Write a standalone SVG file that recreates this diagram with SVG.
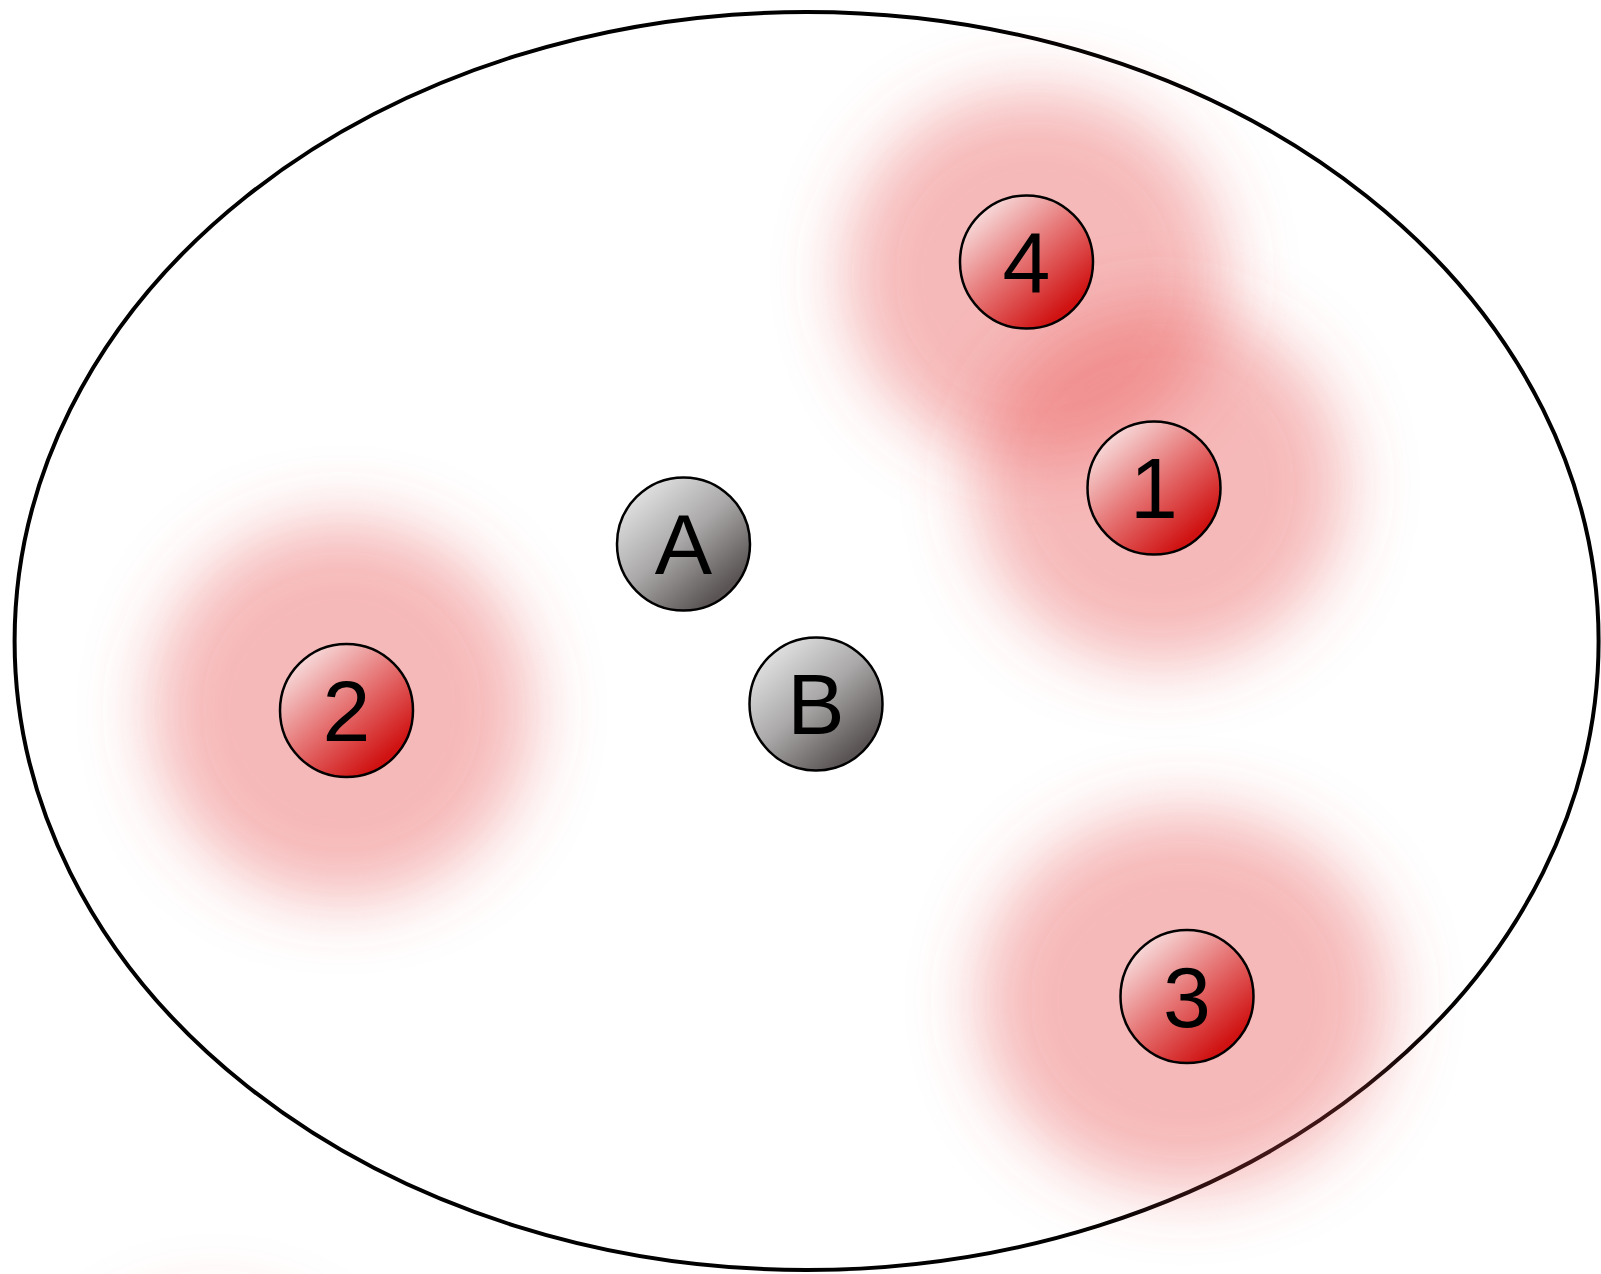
<svg xmlns="http://www.w3.org/2000/svg" width="1601" height="1274" viewBox="0 0 1601 1274">
<defs>
<style>
.node circle{stroke:#000;stroke-width:2.5}
.red{fill:url(#gRed)}
.gray{fill:url(#gGray)}
.lbl{font-family:"Liberation Sans",Arial,sans-serif;font-size:86px;fill:#000;text-anchor:middle;dominant-baseline:central}
.glow{fill:#e85050;fill-opacity:0.4;filter:url(#blur)}
</style>
<linearGradient id="gRed" x1="0.15" y1="0.1" x2="0.8" y2="0.85">
<stop offset="0" stop-color="#f8dede"/>
<stop offset="0.5" stop-color="#e67474"/>
<stop offset="1" stop-color="#d01212"/>
</linearGradient>
<linearGradient id="gGray" x1="0.15" y1="0.1" x2="0.8" y2="0.85">
<stop offset="0" stop-color="#e2e2e2"/>
<stop offset="0.5" stop-color="#aaa8a8"/>
<stop offset="1" stop-color="#5a5454"/>
</linearGradient>
<filter id="blur" x="-50%" y="-50%" width="200%" height="200%">
<feGaussianBlur stdDeviation="34"/>
</filter>
</defs>
<rect width="1601" height="1274" fill="#fff"/>
<ellipse cx="806.6" cy="641" rx="792" ry="629" fill="none" stroke="#000" stroke-width="4"/>
<g id="glows">
<ellipse class="glow" cx="1035" cy="275" rx="190" ry="185"/>
<ellipse class="glow" cx="1160" cy="485" rx="185" ry="180"/>
<ellipse class="glow" cx="342" cy="710" rx="190" ry="190"/>
<ellipse class="glow" cx="1185" cy="1000" rx="205" ry="190"/>
<ellipse class="glow" cx="215" cy="1480" rx="180" ry="180" style="fill-opacity:0.15"/>
</g>
<g id="connectors"></g>
<g id="node-4" class="node"><circle class="red" cx="1026.5" cy="262" r="66.5"/><text class="lbl" x="1026.5" y="262">4</text></g>
<g id="node-1" class="node"><circle class="red" cx="1154" cy="488" r="66.5"/><text class="lbl" x="1154" y="488">1</text></g>
<g id="node-2" class="node"><circle class="red" cx="346.5" cy="710.5" r="66.5"/><text class="lbl" x="346.5" y="710.5">2</text></g>
<g id="node-3" class="node"><circle class="red" cx="1187" cy="996.5" r="66.5"/><text class="lbl" x="1187" y="996.5">3</text></g>
<g id="node-A" class="node"><circle class="gray" cx="683.5" cy="544" r="66.5"/><text class="lbl" x="683.5" y="544">A</text></g>
<g id="node-B" class="node"><circle class="gray" cx="816" cy="704" r="66.5"/><text class="lbl" x="816" y="704">B</text></g>
</svg>
